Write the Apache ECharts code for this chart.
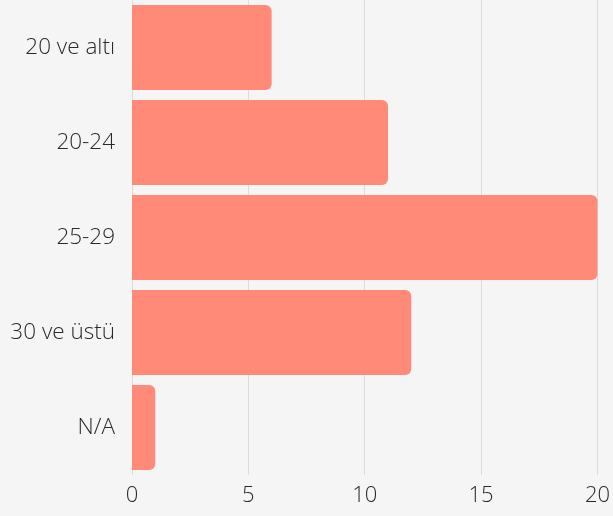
<!DOCTYPE html>
<html>
<head>
<meta charset="utf-8">
<script src="https://cdn.jsdelivr.net/npm/echarts@6/dist/echarts.min.js"></script>
<style>
html,body{margin:0;padding:0;background:#f5f5f5;}
#c{width:613px;height:516px;}
</style>
</head>
<body>
<div id="c"></div>
<script>
const categories = ["20 ve altı", "20-24", "25-29", "30 ve üstü", "N/A"];
const values = [6, 11, 20, 12, 1];
const xTicks = { min: 0, max: 20, interval: 5 };

const chart = echarts.init(document.getElementById('c'), null, { renderer: 'canvas' });
chart.setOption({
  backgroundColor: '#f5f5f5',
  animation: false,
  grid: { left: 132, right: 15, top: 0, bottom: 41, containLabel: false },
  xAxis: {
    type: 'value',
    min: xTicks.min, max: xTicks.max, interval: xTicks.interval,
    axisLine: { show: false },
    axisTick: { show: false },
    splitLine: { show: true, lineStyle: { color: '#dcdcdc', width: 1 } },
    axisLabel: { color: '#2a2a2a', fontSize: 22, fontWeight: 300, fontFamily: 'Open Sans', margin: 10 }
  },
  yAxis: {
    type: 'category',
    data: categories,
    inverse: true,
    axisLine: { show: false },
    axisTick: { show: false },
    axisLabel: { color: '#2a2a2a', fontSize: 22.5, fontWeight: 300, fontFamily: 'Open Sans', margin: 17, padding: [4, 0, 0, 0] }
  },
  series: [{
    type: 'bar',
    data: values,
    barWidth: 85,
    itemStyle: { color: '#ff8a77', borderRadius: [0, 6, 6, 0] }
  }]
});
</script>
</body>
</html>
